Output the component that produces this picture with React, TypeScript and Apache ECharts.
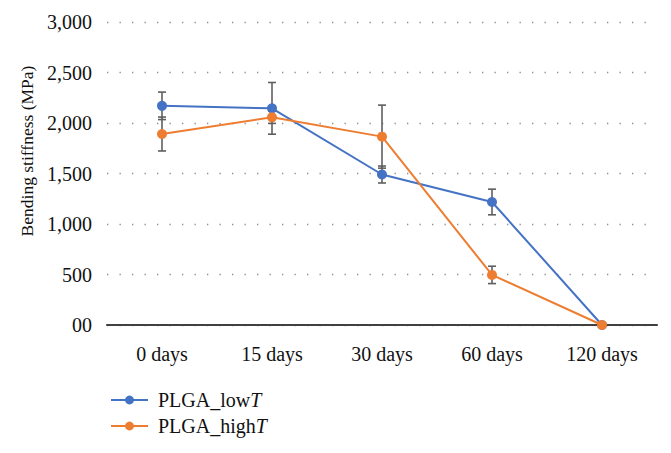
import React, { useEffect, useRef } from "react";
import * as echarts from "echarts";

const categories = ["0 days", "15 days", "30 days", "60 days", "120 days"];
const lowT = [2170, 2145, 1490, 1218, 0];
const lowTErr = [136, 256, 84, 127, 0];
const highT = [1891, 2056, 1865, 496, 0];
const highTErr = [168, 60, 312, 86, 0];
const yTicks = [0, 500, 1000, 1500, 2000, 2500, 3000];
const yTickLabels = ["00", "500", "1,000", "1,500", "2,000", "2,500", "3,000"];

const FONT = "'Liberation Serif', 'Times New Roman', serif";

function errData(vals: number[], errs: number[]) {
  return vals.map((v, i) => [i, v - errs[i], v + errs[i]]);
}

function renderErr(params: any, api: any) {
  const x = api.value(0);
  const lo = api.value(1);
  const hi = api.value(2);
  if (hi - lo <= 0) return { type: "group", children: [] };
  const p1 = api.coord([x, lo]);
  const p2 = api.coord([x, hi]);
  const hw = 4;
  const style = { stroke: "#5f5f5f", lineWidth: 1.6 };
  return {
    type: "group",
    children: [
      { type: "line", shape: { x1: p1[0], y1: p1[1], x2: p2[0], y2: p2[1] }, style },
      { type: "line", shape: { x1: p1[0] - hw, y1: p1[1], x2: p1[0] + hw, y2: p1[1] }, style },
      { type: "line", shape: { x1: p2[0] - hw, y1: p2[1], x2: p2[0] + hw, y2: p2[1] }, style },
    ],
  };
}

export default function App() {
  const ref = useRef<HTMLDivElement>(null);
  useEffect(() => {
    if (!ref.current) return;
    const chart = echarts.init(ref.current, undefined, { renderer: "svg" });
    chart.setOption({
      animation: false,
      backgroundColor: "#ffffff",
      grid: { left: 107, right: 14, top: 22, bottom: 128 },
      xAxis: {
        type: "category",
        data: categories,
        boundaryGap: true,
        axisLine: { lineStyle: { color: "#404040", width: 2.2 } },
        axisTick: { show: false },
        axisLabel: { color: "#111", fontFamily: FONT, fontSize: 20, margin: 19 },
        splitLine: { show: false },
      },
      yAxis: {
        type: "value",
        min: 0,
        max: 3000,
        interval: 500,
        axisLine: { show: false },
        axisTick: { show: false },
        axisLabel: {
          color: "#111",
          fontFamily: FONT,
          fontSize: 20,
          margin: 15,
          formatter: (v: number) => {
            const i = yTicks.indexOf(v);
            return i >= 0 ? yTickLabels[i] : String(v);
          },
        },
        splitLine: {
          lineStyle: { color: "#8c8c8c", width: 1.3, type: [1.3, 11.2] },
        },
      },
      legend: {
        data: ["PLGA_lowT", "PLGA_highT"],
        orient: "vertical",
        left: 105,
        top: 385,
        itemWidth: 37,
        itemHeight: 11,
        itemGap: 6,
        textStyle: {
          fontFamily: FONT,
          fontSize: 20,
          color: "#111",
          padding: [0, 0, 0, 5],
          rich: {
            n: { fontFamily: FONT, fontSize: 20, color: "#111" },
            i: { fontFamily: FONT, fontSize: 20, color: "#111", fontStyle: "italic" },
          },
        },
        formatter: (name: string) => `{n|${name.slice(0, -1)}}{i|T}`,
      },
      graphic: [
        {
          type: "text",
          x: 27,
          y: 151,
          rotation: Math.PI / 2,
          style: {
            text: "Bending stiffness (MPa)",
            fontFamily: FONT,
            fontSize: 17.5,
            fill: "#111",
            textAlign: "center",
            textVerticalAlign: "middle",
          },
        },
      ],
      series: [
        {
          type: "custom",
          name: "errLow",
          renderItem: renderErr,
          data: errData(lowT, lowTErr),
          encode: { x: 0, y: [1, 2] },
          z: 1,
          silent: true,
        },
        {
          type: "custom",
          name: "errHigh",
          renderItem: renderErr,
          data: errData(highT, highTErr),
          encode: { x: 0, y: [1, 2] },
          z: 1,
          silent: true,
        },
        {
          type: "line",
          name: "PLGA_lowT",
          data: lowT,
          symbol: "circle",
          symbolSize: 10,
          color: "#4472C4",
          lineStyle: { width: 2, color: "#4472C4" },
          itemStyle: { color: "#4472C4" },
          z: 3,
        },
        {
          type: "line",
          name: "PLGA_highT",
          data: highT,
          symbol: "circle",
          symbolSize: 10,
          color: "#ED7D31",
          lineStyle: { width: 2, color: "#ED7D31" },
          itemStyle: { color: "#ED7D31" },
          z: 4,
        },
      ],
    });
    return () => chart.dispose();
  }, []);
  return <div ref={ref} style={{ width: 671, height: 453, position: "fixed", left: 0, top: 0 }} />;
}
